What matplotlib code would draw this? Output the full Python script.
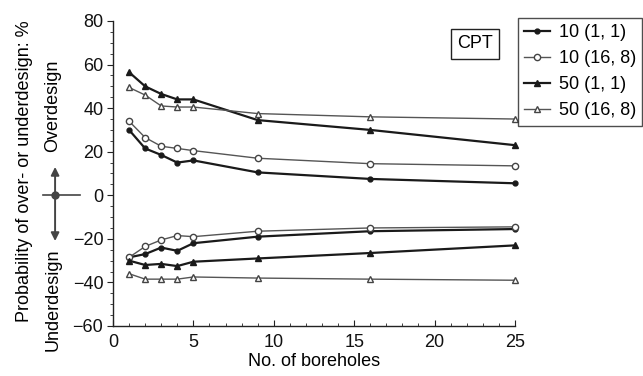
import matplotlib
matplotlib.use("Agg")
import matplotlib.pyplot as plt
from matplotlib.ticker import MultipleLocator

plt.rcParams['font.family'] = ['Liberation Sans', 'DejaVu Sans']
plt.rcParams['font.size'] = 13

# number of boreholes
boreholes = [1, 2, 3, 4, 5, 9, 16, 25]

# over-design (positive) and under-design (negative) probabilities, %
over_10_11 = [30, 21.5, 18.5, 15, 16, 10.5, 7.5, 5.5]
under_10_11 = [-28.5, -27, -24, -25.5, -22, -19, -16.5, -15.5]
over_10_168 = [34, 26.5, 22.5, 21.5, 20.5, 17, 14.5, 13.5]
under_10_168 = [-28.5, -23.5, -20.5, -18.5, -19, -16.5, -15, -14.5]
over_50_11 = [56.5, 50, 46.5, 44, 44, 34.5, 30, 23]
under_50_11 = [-30, -32, -31.5, -32.5, -30.5, -29, -26.5, -23]
over_50_168 = [49.5, 46, 41, 40.5, 40.5, 37.5, 36, 35]
under_50_168 = [-36, -38.5, -38.5, -38.5, -37.5, -38, -38.5, -39]

labels = ['10 (1, 1)', '10 (16, 8)', '50 (1, 1)', '50 (16, 8)']

fig = plt.figure(figsize=(6.43, 3.76), dpi=100)
ax = fig.add_axes([0.1757, 0.1330, 0.6252, 0.8112])

dark = '#1a1a1a'
grey = '#555555'

# (1, 1) series: dark, filled markers; (16, 8) series: grey, open markers
styles = [
    dict(color=dark, lw=1.6, marker='o', ms=3.5, mfc=dark, mec=dark),
    dict(color=grey, lw=1.0, marker='o', ms=4.5, mfc='white', mec='#444444', mew=1.0),
    dict(color=dark, lw=1.6, marker='^', ms=4.5, mfc=dark, mec=dark),
    dict(color=grey, lw=1.0, marker='^', ms=5, mfc='white', mec='#444444', mew=1.0),
]
overs = [over_10_11, over_10_168, over_50_11, over_50_168]
unders = [under_10_11, under_10_168, under_50_11, under_50_168]

handles = []
for st, up, lo, lab in zip(styles, overs, unders, labels):
    h, = ax.plot(boreholes, up, label=lab, clip_on=False, **st)
    ax.plot(boreholes, lo, clip_on=False, **st)
    handles.append(h)

ax.set_xlim(0, 25)
ax.set_ylim(-60, 80)
ax.xaxis.set_major_locator(MultipleLocator(5))
ax.xaxis.set_minor_locator(MultipleLocator(1))
ax.yaxis.set_major_locator(MultipleLocator(20))
ax.yaxis.set_minor_locator(MultipleLocator(5))

for s in ['top', 'right']:
    ax.spines[s].set_visible(False)
for s in ['left', 'bottom']:
    ax.spines[s].set_color('#222222')
    ax.spines[s].set_linewidth(1.0)

ax.tick_params(axis='x', which='both', direction='in', colors='#222222', pad=6)
ax.tick_params(axis='x', which='major', length=4)
ax.tick_params(axis='x', which='minor', length=2.5)
ax.tick_params(axis='y', which='both', direction='out', colors='#222222', pad=3)
ax.tick_params(axis='y', which='major', length=4)
ax.tick_params(axis='y', which='minor', length=2.5)
ax.tick_params(labelcolor='#111111')

ax.set_xlabel('No. of boreholes', labelpad=1)
ax.set_ylabel('Probability of over- or underdesign: %')
ax.yaxis.set_label_coords(-0.199, 0.508)

# over/under design indicator to the left of the axis
for tip in (13, -21):
    ax.annotate('', xy=(-3.6, tip), xytext=(-3.6, 0), xycoords='data',
                annotation_clip=False,
                arrowprops=dict(arrowstyle='-|>', color='#444444', lw=1.4,
                                mutation_scale=12, shrinkA=0, shrinkB=0))
ax.plot([-4.35, -2.05], [0, 0], color='#444444', lw=1.2, clip_on=False)
ax.plot([-3.6], [0], 'o', color='#444444', ms=5, clip_on=False)
ax.text(-3.73, 41, 'Overdesign', rotation=90, ha='center', va='center')
ax.text(-3.73, -48, 'Underdesign', rotation=90, ha='center', va='center')

ax.text(475 / 643, 1 - 44 / 376, 'CPT', transform=fig.transFigure,
        ha='center', va='center',
        bbox=dict(boxstyle='square,pad=0.35', fc='white', ec='#222222', lw=1))

leg = fig.legend(handles=handles, loc='upper left',
                 bbox_to_anchor=(518 / 643, 1 - 18 / 376),
                 bbox_transform=fig.transFigure, borderaxespad=0,
                 frameon=True, fancybox=False, handlelength=1.4,
                 handletextpad=0.5, labelspacing=0.5, borderpad=0.35)
leg.get_frame().set_edgecolor('#222222')
leg.get_frame().set_linewidth(1.0)

fig.savefig('out.png', dpi=100)
